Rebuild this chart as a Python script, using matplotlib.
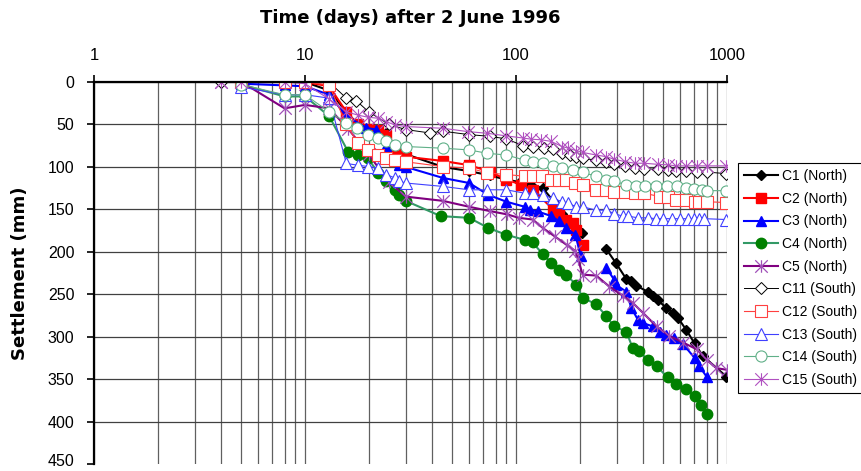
import numpy as np
import matplotlib
matplotlib.use("Agg")
import matplotlib.pyplot as plt
from matplotlib.path import Path
from matplotlib.ticker import FixedLocator, NullFormatter
from matplotlib.transforms import ScaledTranslation

plt.rcParams['font.family'] = ['Liberation Sans', 'DejaVu Sans']

nan = np.nan

# settlement readings (mm) against days after 2 June 1996
c1_t = [5, 8, 10, 13, 15.7, 17.8, 20, 22, 24.3, 26.6, 30, 45, 60, 75, 90, 105, 118, 134, 150, 165, 180, 193, 205,
        230, 268, 297, 333, 352, 372, 421, 446, 471, 514, 555, 586, 641, 702, 770, 993]
c1_s = [0, 0, 0, 10, 35, 50, 55, 57, 60, 75, 85, 100, 105, 110, 115, 118, 121, 125, 140, 155, 165, 172, 178,
        nan, 197, 213, 232, 235, 240, 247, 252, 257, 266, 272, 278, 292, 308, 323, 347]

c2_t = [5, 8, 10, 13, 15.7, 17.8, 19.9, 22.2, 24.3, 26.6, 28, 30, 45, 60, 75, 90, 106, 120, 150, 160, 173, 186, 193, 207]
c2_s = [0, 0, 0, 5, 35, 50, 55, 57, 62, 80, 84, 88, 93, 98, 105.5, 115, 121, 127, 150, 156, 162, 166, 174, 192]

c3_t = [5, 8, 10, 13, 15.7, 19.5, 21.7, 24.3, 26.6, 28, 30, 45, 60, 74, 90, 110, 116, 127, 147, 160, 173, 191, 203,
        230, 268, 292, 298, 333, 352, 378, 400, 446, 480, 514, 563, 620, 702, 740, 800]
c3_s = [2, 4, 5, 15, 40, 54, 56, 75, 92, 98, 100, 113, 119, 133, 141, 147, 150.5, 152.5, 158, 164, 172, 180, 205,
        nan, 219, 233, 239, 247, 266, 280, 284, 288, 294, 298, 301, 309, 325, 335, 347]

c4_t = [5, 8, 10, 13, 16, 17.8, 19.9, 22.2, 24.3, 26.6, 28, 30, 44, 60, 74, 90, 110, 120, 134, 147, 160, 173, 193,
        207, 240, 268, 292, 333, 357, 382, 421, 464, 524, 574, 641, 702, 757, 800]
c4_s = [3, 17, 17, 40, 82, 86, 90, 107, 117, 127, 133, 140, 158, 160, 172, 180, 186, 189, 203, 213, 221, 227, 239,
        254, 262, 276, 288, 294, 313, 317, 327, 335, 348, 356, 362, 370, 380, 391]

c5_t = [4, 5, 8, 10, 13, 16, 20, 25, 30, 45, 60, 75, 91, 103, 120, 134, 153, 174, 191, 197, 207, 240, 277, 322,
        357, 400, 464, 532, 620, 720, 800, 890, 995]
c5_s = [0, 0, 31, 27, 31, 55, 85, 118, 135, 140, 147, 152, 156, 160, 162, 172, 182, 192, 199, 209, 227, 228, 241,
        252, 260, 272, 288, 299, 307, 315, 327, 337, 339]

c11_t = [4, 5, 8, 10, 13, 15.7, 17.5, 20, 25, 30, 39, 45, 60, 75, 90, 108, 120, 135, 150, 165, 180, 193, 207, 240,
         268, 292, 327, 366, 405, 471, 526, 574, 641, 722, 800, 993]
c11_s = [0, 0, 0, 0, 0, 19, 22, 35, 50, 56, 60, 58, 62, 64, 67, 75, 77, 78, 79, 84, 86, 88, 90, 92, 94, 97, 99,
         101, 102, 103, 104, 105, 105, 106, 106, 108]

c12_t = [5, 8, 10, 13, 15.7, 17.8, 19.9, 22.2, 24.3, 26.6, 30, 45, 60, 73, 90, 110, 120, 133, 147, 160, 173, 191,
         207, 240, 268, 292, 327, 366, 405, 480, 526, 574, 641, 702, 740, 800, 993]
c12_s = [0, 0, 0, 3.5, 50, 72, 80, 86, 90, 92, 94, 99.6, 101.5, 107, 109, 111, 111, 111, 115, 115, 115, 119, 121,
         127, 127, 129, 130, 131, 131, 135, 135.6, 139, 139, 141, 141, 141, 142]

c13_t = [5, 8, 10, 13, 15.7, 17.8, 19.9, 22.2, 24.3, 26.6, 28, 30, 45, 60, 73, 90, 110, 120, 134, 150, 165, 177,
         193, 207, 240, 268, 292, 320, 340, 378, 420, 460, 500, 550, 600, 650, 700, 740, 780, 993]
c13_s = [6, 15, 15, 19, 96, 98, 99.6, 101.5, 109, 113, 117, 119, 123, 127, 127, 127, 131, 131, 133, 137, 141, 143,
         147, 147, 151, 151, 155, 158, 158, 160, 160, 161, 161, 161, 161, 161, 161, 161, 161, 162]

c14_t = [5, 8, 10, 13, 15.7, 17.7, 19.9, 22.2, 24.3, 26.6, 30, 45, 60, 73, 90, 110, 120, 134, 150, 165, 186, 207,
         240, 268, 292, 333, 372, 410, 460, 520, 580, 641, 700, 760, 800, 993]
c14_s = [3, 15, 15, 35, 48, 54.5, 62, 66, 70, 74, 76, 78, 80, 84, 86, 92, 94, 96, 99, 101.5, 103.5, 106.6, 111, 115,
         117, 121, 123, 123, 123, 123, 123, 125, 126, 127, 128, 128]

c15_t = [4, 5, 8, 10, 13, 15.7, 17.8, 19.9, 22.2, 24.3, 26.6, 30, 45, 59, 73, 90, 108, 118, 131, 147, 165, 177, 193,
         207, 240, 268, 292, 327, 366, 405, 471, 526, 574, 641, 722, 800, 993]
c15_s = [0, 0, 0, 2, 20, 35, 39, 41.5, 42.7, 46.7, 50.6, 52.5, 54.5, 58.4, 60.4, 63.5, 66, 67.4, 68, 70, 76, 78,
         80.8, 83, 86, 88, 91, 93.7, 95.7, 95.7, 97, 97.6, 98.8, 98.8, 98.8, 98.8, 98.8]

# Excel style "star" marker: an x with a vertical bar
star = Path([(-1, -1), (1, 1), (-1, 1), (1, -1), (0, -1), (0, 1)],
            [Path.MOVETO, Path.LINETO] * 3)

fig = plt.figure(figsize=(8.62, 4.71), dpi=100)
ax = fig.add_axes([94 / 862, 1 - 464 / 471, 633 / 862, 382 / 471])

# north points: thick lines, filled markers
ax.plot(c1_t, c1_s, color='black', lw=1.5, marker='D', ms=5.5, mfc='black', mec='black', label='C1 (North)')
ax.plot(c2_t, c2_s, color='#ff0000', lw=1.5, marker='s', ms=6.5, mfc='#ff0000', mec='#ff0000', label='C2 (North)')
ax.plot(c3_t, c3_s, color='#0000ff', lw=1.5, marker='^', ms=7.5, mfc='#0000ff', mec='#0000ff', label='C3 (North)')
ax.plot(c4_t, c4_s, color='#339966', lw=1.5, marker='o', ms=7.5, mfc='#008000', mec='#008000', label='C4 (North)')
ax.plot(c5_t, c5_s, color='#800080', lw=1.5, marker=star, ms=9, mfc='none', mec='#a050b8', mew=0.9,
        label='C5 (North)')

# south points: thin lines, open markers
ax.plot(c11_t, c11_s, color='black', lw=0.7, marker='D', ms=6, mfc='white', mec='black', mew=0.7,
        label='C11 (South)')
ax.plot(c12_t, c12_s, color='#ff4040', lw=0.8, marker='s', ms=8, mfc='white', mec='#ff4040', mew=0.8,
        label='C12 (South)')
ax.plot(c13_t, c13_s, color='#4040ff', lw=0.8, marker='^', ms=8.5, mfc='white', mec='#4040ff', mew=0.8,
        label='C13 (South)')
ax.plot(c14_t, c14_s, color='#60b088', lw=0.8, marker='o', ms=8, mfc='white', mec='#60b088', mew=0.8,
        label='C14 (South)')
ax.plot(c15_t, c15_s, color='#b050c0', lw=0.8, marker=star, ms=9, mfc='none', mec='#b050c0', mew=0.8,
        label='C15 (South)')

ax.set_xscale('log')
ax.set_xlim(1, 1000)
ax.set_ylim(450, 0)

ax.xaxis.set_ticks_position('top')
ax.xaxis.set_label_position('top')
ax.set_xticks([1, 10, 100, 1000])
ax.set_xticklabels(['1', '10', '100', '1000'])
ax.xaxis.set_minor_locator(FixedLocator([m * 10 ** e for e in range(3) for m in range(2, 10)]))
ax.xaxis.set_minor_formatter(NullFormatter())
ax.tick_params(axis='x', which='major', direction='out', length=5, width=1.2, pad=9, labelsize=12)
ax.tick_params(axis='x', which='minor', length=0)

ax.set_yticks(np.arange(0, 451, 50))
ax.tick_params(axis='y', direction='out', length=5, width=1.2, pad=9, labelsize=11.5)
# the bottom label sits a little higher so it stays inside the picture
last = ax.get_yticklabels()[-1]
last.set_transform(last.get_transform() + ScaledTranslation(0, 3 / 72, fig.dpi_scale_trans))

ax.grid(True, which='both', axis='x', color='#606060', lw=0.9)
ax.grid(True, which='major', axis='y', color='#404040', lw=0.9)
ax.get_ygridlines()[-1].set_visible(False)
ax.set_axisbelow(True)

for side in ['right', 'bottom']:
    ax.spines[side].set_visible(False)
for side in ['left', 'top']:
    ax.spines[side].set_linewidth(1.6)

ax.set_xlabel('Time (days) after 2 June 1996', fontsize=13, fontweight='bold', family='DejaVu Sans')
ax.xaxis.set_label_coords(0.5, 1 + (82 - 18) / 382)
ax.xaxis.label.set_va('center')
ax.set_ylabel('Settlement (mm)', fontsize=13, fontweight='bold', family='DejaVu Sans')
ax.yaxis.set_label_coords((20 - 94) / 633, 0.5)
ax.yaxis.label.set_va('center')

leg = fig.legend(loc='upper left', bbox_to_anchor=(738 / 862, 1 - 163 / 471), borderaxespad=0,
                 fontsize=10, frameon=True, fancybox=False, edgecolor='black', framealpha=1,
                 handlelength=2.4, handletextpad=0.3, labelspacing=0.62, borderpad=0.45)
leg.get_frame().set_linewidth(0.8)

fig.savefig('out.png', dpi=100)
